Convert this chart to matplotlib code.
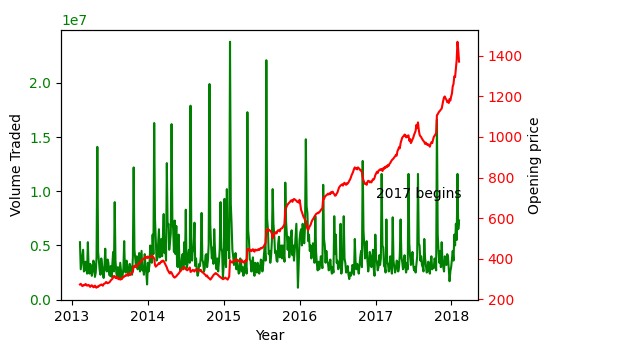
import matplotlib
matplotlib.use('Agg')
import matplotlib.pyplot as plt
import matplotlib.dates as mdates
import pandas as pd

# 成交量 (百萬股), 每月八筆, 從每月8號起大約每4天一筆
vol_2013 = [5.3, 2.8, 3.4, 4.0, 4.6, 2.6, 2.7, 3.5,    # 2月
            3.0, 2.4, 5.3, 2.9, 2.4, 3.3, 3.1, 2.2,    # 3月
            2.6, 3.6, 3.3, 2.1, 2.5, 3.9, 14.1, 4.4,   # 4月
            3.6, 2.7, 2.3, 3.8, 3.2, 2.4, 2.0, 3.0,    # 5月
            4.7, 2.9, 2.6, 3.7, 3.4, 2.3, 2.2, 3.1,    # 6月
            2.1, 3.2, 4.4, 2.6, 9.0, 3.6, 2.5, 2.1,    # 7月
            3.0, 2.4, 2.0, 3.4, 2.6, 1.9, 2.2, 2.9,    # 8月
            5.4, 2.6, 2.5, 3.6, 3.1, 2.2, 2.4, 3.3,    # 9月
            3.0, 2.5, 2.3, 3.9, 12.2, 4.6, 3.8, 3.0,   # 10月
            4.0, 2.8, 3.2, 4.3, 2.6, 3.5, 4.5, 2.7,    # 11月
            3.0, 2.3, 4.2, 3.1, 2.5, 1.4, 3.4, 2.6]    # 12月
vol_2014 = [3.2, 5.0, 4.4, 3.4, 6.0, 4.2, 16.3, 7.5,
            5.5, 3.6, 3.8, 5.2, 6.5, 3.9, 4.2, 5.6,
            4.0, 5.8, 7.9, 4.3, 5.0, 3.6, 12.6, 6.8,
            7.0, 4.6, 5.3, 6.1, 16.2, 7.4, 6.5, 4.4,
            7.3, 4.2, 6.8, 3.1, 3.0, 6.0, 3.4, 2.7,
            3.0, 3.9, 4.2, 2.8, 5.3, 3.3, 8.3, 2.9,
            3.2, 4.1, 4.6, 3.4, 17.9, 6.0, 3.6, 4.8,
            4.5, 7.1, 3.1, 3.8, 2.7, 2.2, 2.5, 3.3,
            3.1, 4.0, 8.0, 3.7, 3.4, 2.6, 2.9, 4.1,
            4.2, 3.0, 3.6, 5.1, 19.9, 7.0, 5.0, 3.8,
            4.8, 3.3, 6.5, 4.6, 3.4, 2.8, 3.8, 2.6,
            3.5, 4.7, 9.0, 4.8, 4.4, 2.0, 3.2, 9.3]
vol_2015 = [4.0, 3.0, 10.2, 4.6, 6.0, 3.8, 23.8, 8.8,
            7.0, 4.6, 4.0, 3.2, 3.5, 4.3, 2.8, 3.6,
            3.0, 2.4, 2.5, 3.8, 3.4, 2.6, 3.0, 2.2,
            2.6, 3.4, 3.2, 2.4, 17.3, 6.4, 5.5, 3.7,
            3.6, 2.6, 3.0, 3.9, 2.6, 2.2, 3.4, 2.8,
            2.5, 3.4, 3.1, 2.4, 2.8, 3.7, 3.6, 2.6,
            3.2, 4.2, 4.8, 3.6, 22.1, 7.5, 6.5, 4.2,
            4.5, 3.4, 4.0, 5.4, 10.2, 7.0, 6.0, 4.3,
            4.5, 3.6, 3.5, 5.2, 5.8, 3.9, 4.0, 5.0,
            3.8, 5.0, 4.2, 3.5, 10.8, 7.2, 6.0, 4.6,
            5.8, 3.9, 4.5, 5.6, 6.4, 4.1, 5.0, 3.6,
            4.6, 5.8, 7.0, 4.4, 1.1, 3.3, 5.5, 6.2]
vol_2016 = [6.5, 5.0, 7.0, 5.6, 5.2, 6.8, 14.8, 8.6,
            8.0, 5.4, 6.0, 4.5, 5.0, 3.8, 4.2, 5.2,
            4.5, 3.4, 7.7, 4.4, 3.3, 2.7, 3.5, 2.8,
            3.2, 4.0, 3.6, 2.9, 10.6, 5.6, 5.0, 3.4,
            4.5, 3.6, 3.4, 2.7, 3.0, 3.7, 2.8, 2.4,
            3.0, 2.5, 7.7, 4.2, 6.0, 3.4, 3.6, 2.8,
            3.0, 3.6, 7.0, 2.4, 3.2, 4.1, 7.7, 3.8,
            3.4, 2.5, 2.6, 3.1, 2.3, 1.9, 2.5, 2.2,
            2.4, 3.2, 3.0, 2.3, 5.6, 3.5, 2.8, 3.3,
            2.9, 2.4, 3.2, 4.0, 4.5, 3.0, 12.8, 6.4,
            5.0, 3.8, 4.2, 5.4, 3.6, 2.6, 3.2, 4.4,
            4.0, 3.0, 3.4, 4.6, 2.8, 2.2, 6.0, 3.7]
vol_2017 = [3.5, 2.7, 3.0, 4.1, 3.2, 3.8, 11.6, 5.0,
            4.8, 3.1, 3.0, 2.5, 7.4, 3.4, 3.3, 2.6,
            3.2, 4.0, 2.9, 2.4, 7.6, 3.6, 3.0, 2.5,
            2.8, 3.6, 3.5, 2.6, 3.0, 4.2, 7.4, 4.0,
            3.5, 2.8, 3.2, 4.1, 3.0, 2.5, 3.4, 2.8,
            11.6, 5.2, 4.0, 3.2, 3.5, 4.4, 3.2, 2.7,
            3.0, 2.5, 3.3, 4.0, 11.6, 5.2, 5.0, 3.6,
            4.0, 3.2, 3.0, 2.6, 5.6, 3.8, 3.2, 2.5,
            2.6, 3.5, 3.0, 2.4, 3.4, 4.0, 2.8, 3.1,
            2.9, 3.8, 3.5, 2.7, 16.6, 6.0, 4.5, 3.4,
            4.5, 3.0, 5.3, 3.6, 3.0, 2.6, 4.0, 3.3,
            3.2, 4.2, 4.0, 2.8, 1.7, 2.6, 3.0, 3.8]
vol_2018 = [4.5, 3.6, 6.0, 5.0, 7.0, 5.5, 11.6, 6.5,
            7.3]

# 開盤價, 日期同上
open_2013 = [272, 275, 270, 264, 266, 270, 268, 274,
             272, 266, 268, 270, 264, 260, 266, 268,
             264, 258, 262, 266, 258, 256, 262, 260,
             264, 268, 268, 272, 270, 266, 274, 276,
             278, 284, 282, 278, 280, 282, 286, 292,
             296, 300, 306, 314, 312, 304, 310, 302,
             306, 298, 302, 296, 298, 302, 304, 310,
             310, 314, 318, 316, 322, 326, 324, 318,
             320, 326, 330, 334, 362, 358, 366, 360,
             360, 366, 372, 378, 380, 386, 390, 394,
             396, 400, 404, 410, 406, 402, 410, 406]
open_2014 = [402, 406, 410, 414, 412, 406, 400, 368,
             360, 364, 368, 372, 378, 374, 380, 386,
             384, 390, 388, 380, 372, 364, 356, 344,
             338, 330, 326, 334, 330, 322, 314, 308,
             306, 310, 312, 318, 322, 326, 332, 338,
             340, 348, 352, 356, 358, 352, 348, 344,
             342, 346, 350, 356, 334, 336, 340, 344,
             340, 336, 344, 346, 346, 340, 344, 342,
             340, 344, 336, 332, 330, 326, 322, 318,
             312, 316, 308, 304, 302, 296, 300, 306,
             312, 318, 322, 326, 328, 324, 322, 318,
             314, 310, 308, 304, 302, 298, 300, 302]
open_2015 = [306, 302, 300, 296, 304, 312, 392, 384,
             382, 380, 386, 390, 392, 388, 396, 394,
             392, 388, 386, 382, 388, 392, 384, 380,
             386, 382, 392, 388, 446, 440, 448, 444,
             440, 436, 442, 446, 438, 434, 444, 442,
             440, 444, 446, 442, 448, 452, 450, 454,
             456, 462, 470, 476, 540, 536, 546, 542,
             540, 536, 532, 524, 500, 512, 520, 526,
             530, 524, 536, 540, 540, 534, 546, 548,
             550, 556, 562, 570, 640, 650, 660, 666,
             672, 676, 680, 686, 688, 680, 690, 694,
             692, 688, 686, 680, 680, 676, 690, 668]
open_2016 = [640, 630, 618, 606, 600, 590, 585, 560,
             548, 540, 552, 560, 566, 578, 588, 594,
             600, 608, 614, 620, 622, 626, 624, 630,
             632, 640, 644, 650, 700, 694, 704, 710,
             712, 716, 720, 716, 722, 718, 728, 726,
             730, 722, 718, 710, 712, 720, 726, 738,
             750, 756, 760, 764, 766, 760, 770, 774,
             768, 764, 772, 770, 776, 784, 790, 800,
             812, 820, 830, 842, 850, 844, 846, 840,
             850, 846, 842, 836, 836, 826, 800, 786,
             775, 768, 770, 764, 778, 784, 782, 776,
             780, 776, 784, 792, 790, 798, 812, 820]
open_2017 = [828, 822, 834, 836, 840, 838, 842, 832,
             846, 842, 852, 848, 856, 852, 862, 858,
             868, 872, 880, 886, 890, 894, 900, 904,
             912, 908, 930, 938, 950, 944, 970, 984,
             996, 1002, 1004, 1012, 1010, 998, 1000, 1006,
             1008, 982, 990, 970, 978, 988, 996, 1010,
             1020, 1030, 1060, 1044, 1072, 1036, 1012, 1004,
             1000, 992, 986, 980, 976, 966, 972, 966,
             960, 964, 958, 952, 966, 974, 970, 986,
             1000, 1006, 1012, 1020, 1108, 1112, 1120, 1126,
             1130, 1136, 1140, 1160, 1180, 1196, 1200, 1190,
             1184, 1172, 1176, 1168, 1188, 1180, 1200, 1214]
open_2018 = [1250, 1262, 1300, 1296, 1336, 1380, 1470, 1430,
             1372]

volume = vol_2013 + vol_2014 + vol_2015 + vol_2016 + vol_2017 + vol_2018
opening = open_2013 + open_2014 + open_2015 + open_2016 + open_2017 + open_2018

dates = pd.date_range('2013-02-08', '2018-02-07', periods=len(volume))
df = pd.DataFrame({'Volume': [v * 1e6 for v in volume], 'Open': opening}, index=dates)

fig, ax1 = plt.subplots(figsize=(6.29, 3.53), dpi=100)
fig.subplots_adjust(left=61 / 629, right=478 / 629, bottom=53 / 353, top=323.5 / 353)

# 成交量 (左軸)
ax1.plot(df.index, df['Volume'], color='green')
ax1.set_xlabel('Year')
ax1.set_ylabel('Volume Traded')
ax1.tick_params(axis='y', labelcolor='green')

# 開盤價 (右軸)
ax2 = ax1.twinx()
ax2.plot(df.index, df['Open'], color='red')
ax2.set_ylabel('Opening price')
ax2.tick_params(axis='y', colors='red')
ax2.text(pd.Timestamp('2017-01-01'), 700, '2017 begins')

ax1.xaxis.set_major_locator(mdates.YearLocator())
ax1.xaxis.set_major_formatter(mdates.DateFormatter('%Y'))

fig.savefig('out.png')
